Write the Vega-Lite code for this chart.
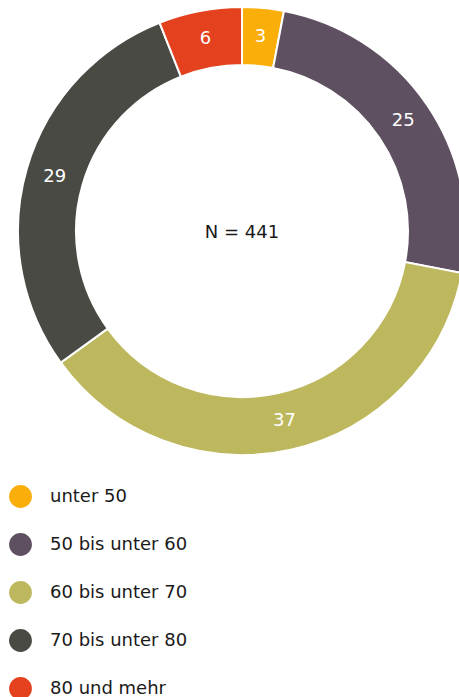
{
  "$schema": "https://vega.github.io/schema/vega-lite/v6.json",
  "width": 459,
  "height": 697,
  "autosize": {"type": "none"},
  "padding": 0,
  "background": "white",
  "config": {"view": {"stroke": null}, "font": "DejaVu Sans"},
  "data": {"values": [
    {"group": "unter 50", "value": 3, "ord": 1},
    {"group": "50 bis unter 60", "value": 25, "ord": 2},
    {"group": "60 bis unter 70", "value": 37, "ord": 3},
    {"group": "70 bis unter 80", "value": 29, "ord": 4},
    {"group": "80 und mehr", "value": 6, "ord": 5}
  ]},
  "encoding": {
    "theta": {"field": "value", "type": "quantitative", "stack": true},
    "order": {"field": "ord", "type": "quantitative"},
    "x": {"value": 242},
    "y": {"value": 231}
  },
  "layer": [
    {
      "mark": {"type": "arc", "outerRadius": 224, "innerRadius": 166, "stroke": "white", "strokeWidth": 2},
      "encoding": {
        "color": {
          "field": "group", "type": "nominal",
          "sort": ["unter 50", "50 bis unter 60", "60 bis unter 70", "70 bis unter 80", "80 und mehr"],
          "scale": {
            "domain": ["unter 50", "50 bis unter 60", "60 bis unter 70", "70 bis unter 80", "80 und mehr"],
            "range": ["#F9AE0A", "#5E5060", "#BDB85D", "#484A43", "#E4411E"]
          },
          "legend": {
            "title": null,
            "orient": "none",
            "legendX": 9,
            "legendY": 485,
            "symbolType": "circle",
            "symbolSize": 520,
            "symbolStrokeWidth": 0,
            "labelFontSize": 18,
            "labelFont": "DejaVu Sans",
            "labelFontWeight": "normal",
            "labelColor": "#1a1a1a",
            "labelOffset": 18,
            "rowPadding": 25
          }
        }
      }
    },
    {
      "mark": {"type": "text", "radius": 195, "fontSize": 18, "color": "white", "font": "DejaVu Sans"},
      "encoding": {"text": {"field": "value", "type": "quantitative"}}
    },
    {
      "data": {"values": [{"label": "N = 441"}]},
      "mark": {"type": "text", "fontSize": 18, "dy": 2, "color": "#1a1a1a", "font": "DejaVu Sans"},
      "encoding": {
        "text": {"field": "label"},
        "theta": null,
        "order": null
      }
    }
  ]
}
